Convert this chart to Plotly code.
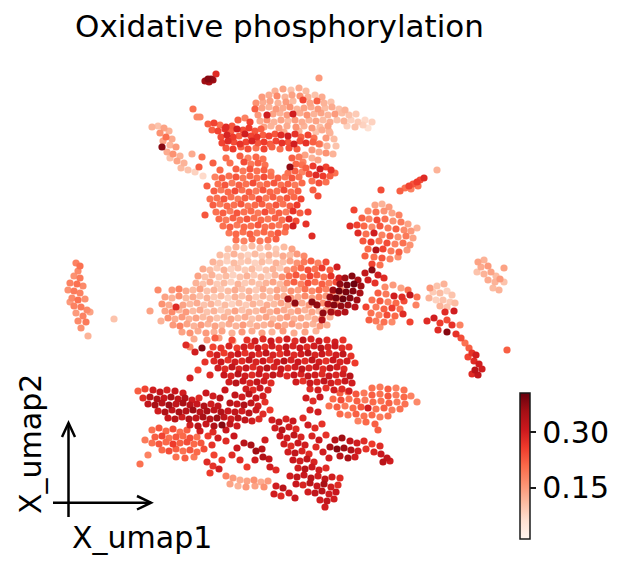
import plotly.graph_objects as go

# UMAP embedding: (X_umap1, X_umap2, oxidative phosphorylation score)
far_left = [(76,-263,.18),(80,-266,.2),(78,-271,.17),(74,-276,.16),(80,-278,.19),(70,-283,.18),(77,-284,.2),(83,-286,.17),
    (68,-290,.16),(74,-291,.19),(80,-293,.18),(72,-298,.17),(78,-300,.2),(85,-299,.16),(74,-306,.18),(81,-307,.19),(87,-310,.17),
    (76,-313,.15),(83,-316,.18),(78,-321,.17),(86,-322,.19),(81,-328,.16),(88,-336,.12),(90,-312,.14),(70,-302,.15),(114,-319,.1)]

left_strand = [(152,-127,.12),(158,-126,.1),(164,-128,.14),(169,-131,.12),(160,-133,.16),(166,-137,.2),(172,-139,.13),(163,-141,.14),
    (170,-145,.12),(162,-147,.38),(176,-147,.15),(167,-152,.13),(173,-154,.16),(180,-156,.12),(170,-158,.1),(177,-161,.14),
    (184,-163,.12),(181,-168,.11),(188,-170,.1),(195,-172,.08),(192,-154,.13),(202,-157,.2),(199,-167,.22),(203,-176,.07),
    (193,-109,.2),(197,-117,.17),(200,-117,.17)]

top_dark = [(205,-81,.36),(208,-79,.38),(211,-79,.37),(213,-80,.36),(209,-82,.35),(216,-74,.28)]

top_crown = [(275,-91,.12),(283,-89,.14),(291,-90,.1),(299,-88,.13),(306,-91,.11),(319,-78,.15),
    (262,-97,.15),(269,-95,.13),(277,-96,.17),(285,-97,.12),(292,-95,.14),(300,-96,.16),(308,-97,.12),(315,-95,.1),(322,-97,.13),
    (256,-103,.16),(263,-102,.13),(270,-101,.14),(278,-103,.12),(286,-102,.15),(293,-101,.11),(303,-100,.25),(310,-103,.14),
    (317,-101,.22),(324,-103,.12),(331,-102,.1),
    (255,-109,.22),(262,-108,.14),(269,-107,.12),(276,-109,.15),(283,-108,.13),(290,-107,.16),(297,-109,.12),(304,-108,.14),
    (311,-107,.13),(318,-109,.15),(325,-108,.11),(332,-107,.13),(339,-109,.1),(345,-110,.12),
    (258,-115,.15),(267,-115,.3),(273,-114,.14),(280,-113,.12),(287,-115,.15),(293,-114,.3),(300,-113,.13),(307,-115,.16),
    (314,-114,.12),(321,-113,.14),(328,-115,.12),(335,-114,.15),(342,-113,.11),(349,-115,.1),(356,-114,.09),
    (260,-121,.13),(267,-120,.16),(274,-122,.12),(281,-120,.14),(288,-121,.11),(295,-120,.15),(302,-122,.13),(309,-120,.12),
    (316,-121,.14),(323,-120,.11),(330,-122,.13),(337,-120,.1),(344,-121,.12),(351,-120,.08),(358,-122,.09),(365,-120,.07),
    (372,-122,.08),
    (264,-127,.14),(271,-126,.12),(279,-128,.15),(287,-126,.13),(296,-127,.16),(304,-126,.12),(312,-128,.15),(320,-127,.11),
    (328,-126,.14),(347,-126,.08),(355,-127,.1),(363,-125,.08),(368,-128,.06),
    (284,-132,.13),(299,-131,.12),(316,-132,.1),(329,-131,.12),(238,-120,.22),(245,-118,.18),(250,-122,.25)]

red_band = [(208,-124,.22),(214,-123,.25),(220,-125,.2),(226,-127,.28),(232,-126,.23),
    (212,-130,.22),(218,-131,.25),(225,-129,.27),(231,-131,.22),(237,-129,.3),(243,-130,.24),(249,-128,.26),(255,-131,.23),(261,-129,.22),
    (221,-137,.24),(227,-135,.29),(233,-137,.26),(239,-136,.22),(245,-134,.3),(251,-136,.25),(257,-137,.27),(263,-135,.22),
    (269,-136,.25),(275,-134,.23),(281,-135,.28),(288,-136,.3),(295,-134,.27),(301,-137,.22),(308,-135,.25),(314,-138,.2),
    (222,-143,.25),(228,-141,.28),(234,-142,.24),(240,-144,.27),(246,-142,.25),(252,-141,.29),(258,-143,.23),(264,-142,.26),
    (270,-144,.22),(276,-141,.25),(282,-143,.27),(288,-142,.23),(294,-144,.3),(300,-141,.24),(306,-143,.27),(313,-142,.22),(319,-144,.2),
    (226,-148,.23),(233,-149,.26),(241,-147,.22),(248,-149,.24),(256,-148,.2),(264,-149,.25),(272,-147,.22),(280,-149,.2),
    (289,-148,.24),(297,-149,.22)]

right_attached = [(322,-130,.13),(330,-133,.12),(326,-138,.15),(334,-139,.11),(320,-144,.14),(327,-146,.12),(336,-146,.1),
    (312,-150,.15),(319,-152,.13),(326,-153,.16),(333,-154,.12),(305,-155,.14),(312,-158,.12),(318,-160,.14),(306,-168,.22),
    (313,-166,.26),(320,-169,.3),(326,-167,.25),(331,-170,.27),(309,-174,.24),(316,-175,.28),(323,-176,.26),(330,-176,.22),
    (335,-173,.2),(312,-181,.2),(319,-183,.24),(326,-182,.2),(313,-190,.22),(318,-196,.24),(303,-162,.18)]

main_orange = [(226,-158,.2),(240,-156,.22),(248,-158,.18),(256,-157,.21),(263,-159,.2),(292,-158,.22),(299,-157,.19),
    (213,-163,.22),(230,-163,.2),(244,-162,.24),(251,-164,.19),(258,-163,.22),(265,-165,.2),(290,-167,.37),(296,-164,.21),(302,-165,.2),
    (220,-170,.21),(236,-169,.22),(243,-171,.19),(250,-169,.23),(257,-171,.2),(264,-170,.22),(271,-172,.19),(288,-173,.2),(295,-171,.22),(302,-172,.18),
    (215,-177,.18),(222,-178,.22),(229,-176,.2),(236,-177,.23),(243,-178,.19),(250,-176,.21),(257,-178,.2),(264,-177,.24),
    (271,-176,.2),(278,-178,.22),(285,-177,.19),(292,-178,.23),(299,-177,.2),
    (218,-184,.2),(225,-185,.23),(232,-183,.19),(239,-185,.22),(246,-184,.2),(253,-183,.24),(260,-185,.19),(267,-184,.21),
    (274,-183,.23),(281,-185,.2),(288,-184,.22),(295,-185,.19),(302,-183,.21),
    (214,-191,.22),(221,-190,.19),(228,-192,.21),(235,-191,.24),(242,-190,.2),(249,-192,.22),(256,-191,.19),(263,-190,.23),
    (270,-192,.21),(277,-191,.2),(284,-190,.24),(291,-192,.2),(298,-191,.22),
    (217,-198,.2),(224,-199,.23),(231,-197,.2),(238,-199,.19),(245,-198,.22),(252,-197,.2),(259,-199,.24),(266,-198,.19),
    (273,-197,.22),(280,-199,.2),(287,-198,.23),(294,-197,.21),(301,-199,.25),
    (213,-205,.22),(220,-204,.19),(227,-206,.21),(234,-205,.2),(241,-204,.23),(248,-206,.19),(255,-205,.21),(262,-204,.22),
    (269,-206,.2),(276,-205,.23),(283,-204,.2),(290,-206,.22),(297,-205,.26),
    (216,-212,.2),(223,-213,.22),(230,-211,.19),(237,-213,.23),(244,-212,.2),(251,-211,.21),(258,-213,.19),(265,-212,.24),
    (272,-211,.2),(279,-213,.22),(286,-212,.19),(293,-211,.27),(300,-213,.22),
    (219,-219,.21),(226,-220,.19),(233,-218,.22),(240,-220,.2),(247,-219,.23),(254,-218,.2),(261,-220,.21),(268,-219,.19),
    (275,-218,.22),(282,-220,.2),(289,-219,.28),(296,-221,.24),
    (223,-226,.2),(230,-227,.22),(237,-225,.19),(244,-227,.21),(251,-226,.2),(258,-225,.23),(265,-227,.2),(272,-226,.21),
    (279,-225,.19),(286,-227,.22),(293,-226,.3),
    (229,-233,.19),(236,-234,.21),(243,-232,.2),(250,-234,.22),(257,-233,.19),(264,-232,.21),(271,-234,.2),(278,-233,.23),(285,-232,.2),
    (236,-240,.2),(244,-241,.18),(252,-239,.21),(260,-241,.19),(268,-240,.2),(276,-239,.22),
    (207,-186,.22),(210,-199,.2),(205,-215,.23),(306,-224,.27),(312,-236,.28),(308,-212,.25)]

pale_band = [(228,-249,.1),(236,-247,.12),(244,-248,.09),(252,-246,.11),(260,-248,.1),(268,-247,.12),(276,-249,.09),(284,-247,.11),(292,-249,.14),
    (220,-255,.11),(227,-256,.09),(234,-254,.12),(241,-256,.1),(248,-255,.08),(255,-254,.11),(262,-256,.09),(269,-255,.12),
    (276,-254,.1),(283,-256,.13),(290,-255,.11),(297,-254,.15),(304,-256,.17),
    (213,-262,.12),(220,-263,.1),(227,-261,.08),(234,-263,.11),(241,-262,.09),(248,-261,.1),(255,-263,.08),(262,-262,.11),
    (269,-261,.09),(276,-263,.12),(283,-262,.1),(290,-261,.14),(297,-263,.16),(304,-262,.19),(311,-261,.22),(318,-263,.18),(326,-262,.24),
    (203,-269,.13),(210,-270,.11),(217,-268,.09),(224,-270,.12),(231,-269,.08),(238,-268,.1),(245,-270,.09),(252,-269,.11),
    (259,-268,.08),(266,-270,.1),(273,-269,.12),(280,-268,.09),(287,-270,.15),(294,-269,.18),(301,-268,.21),(308,-270,.24),
    (315,-269,.2),(322,-268,.26),(330,-270,.22),(337,-267,.3),
    (198,-276,.14),(205,-277,.1),(212,-275,.12),(219,-277,.09),(226,-276,.11),(233,-275,.08),(240,-277,.1),(247,-276,.12),
    (254,-275,.09),(261,-277,.11),(268,-276,.08),(275,-275,.12),(282,-277,.16),(289,-276,.2),(296,-275,.23),(303,-277,.19),
    (310,-276,.25),(317,-275,.22),(324,-277,.2),(331,-276,.27),(339,-278,.3),
    (196,-283,.12),(203,-284,.1),(210,-282,.13),(217,-284,.09),(224,-283,.11),(231,-282,.08),(238,-284,.12),(245,-283,.09),
    (252,-282,.11),(259,-284,.1),(266,-283,.12),(273,-282,.14),(280,-284,.11),(287,-283,.17),(294,-282,.22),(301,-284,.18),
    (308,-283,.24),(315,-282,.2),(322,-284,.22),(329,-283,.19),(336,-282,.24),
    (172,-290,.15),(179,-289,.18),(186,-291,.13),(193,-290,.11),(200,-289,.14),(207,-291,.1),(214,-290,.12),(221,-289,.09),
    (228,-291,.11),(235,-290,.13),(242,-289,.1),(249,-291,.12),(256,-290,.09),(263,-289,.13),(270,-291,.11),(277,-290,.14),
    (284,-289,.12),(291,-291,.16),(298,-290,.14),(305,-289,.2),(312,-291,.17),(319,-290,.21),(326,-289,.18),(333,-291,.2),(341,-290,.16),
    (165,-297,.14),(172,-298,.12),(179,-296,.16),(186,-298,.11),(193,-297,.13),(200,-296,.1),(207,-298,.12),(214,-297,.09),
    (221,-296,.11),(228,-298,.08),(235,-297,.12),(242,-296,.1),(249,-298,.13),(256,-297,.09),(263,-296,.12),(270,-298,.1),
    (277,-297,.14),(284,-296,.12),(291,-298,.15),(298,-297,.13),(305,-296,.17),(312,-298,.14),(319,-297,.18),(326,-296,.15),
    (333,-298,.17),(340,-297,.14),
    (162,-304,.16),(169,-305,.13),(176,-307,.28),(183,-305,.14),(190,-304,.11),(197,-303,.13),(204,-305,.1),(211,-304,.12),
    (218,-303,.09),(225,-305,.11),(232,-304,.08),(239,-303,.11),(246,-305,.09),(253,-304,.12),(260,-303,.1),(267,-305,.13),
    (274,-304,.11),(281,-303,.14),(288,-305,.12),(295,-304,.16),(302,-303,.13),(309,-305,.15),(316,-304,.12),(323,-303,.16),
    (330,-305,.14),(337,-304,.17),
    (165,-311,.14),(172,-312,.17),(179,-310,.12),(186,-312,.15),(193,-311,.11),(200,-310,.13),(207,-312,.1),(214,-311,.12),
    (221,-310,.09),(228,-312,.11),(235,-311,.14),(242,-310,.1),(249,-312,.12),(256,-311,.11),(263,-310,.14),(270,-312,.12),
    (277,-311,.15),(284,-310,.13),(291,-312,.12),(298,-311,.15),(305,-310,.12),(312,-312,.14),(319,-311,.11),(326,-310,.13),(333,-312,.16),
    (168,-318,.16),(175,-319,.13),(182,-317,.15),(189,-319,.12),(196,-318,.14),(203,-317,.11),(210,-319,.13),(217,-318,.1),
    (224,-317,.12),(231,-319,.14),(238,-318,.11),(245,-317,.13),(252,-319,.1),(259,-318,.12),(266,-317,.14),(273,-319,.11),
    (280,-318,.13),(287,-317,.15),(294,-319,.12),(301,-318,.14),(308,-317,.11),(315,-319,.13),(322,-318,.15),(330,-317,.12),
    (173,-325,.15),(180,-326,.18),(187,-324,.14),(194,-326,.12),(201,-325,.15),(208,-324,.12),(215,-326,.14),(222,-325,.11),
    (229,-324,.13),(236,-326,.12),(243,-325,.15),(250,-324,.11),(257,-326,.13),(264,-325,.12),(271,-324,.14),(278,-326,.16),
    (285,-325,.13),(292,-324,.15),(299,-326,.12),(306,-325,.14),(313,-324,.12),(320,-326,.15),(327,-325,.13),
    (182,-332,.14),(190,-333,.16),(198,-331,.13),(206,-333,.15),(214,-332,.12),(222,-331,.14),(232,-333,.12),(242,-332,.15),
    (252,-331,.13),(262,-333,.14),(272,-332,.12),(283,-331,.15),(294,-333,.13),(305,-332,.14),(316,-331,.12),
    (194,-339,.13),(207,-340,.15),(219,-338,.14),(233,-341,.12),(190,-347,.17),(161,-321,.12),(150,-311,.14),(158,-290,.17)]

dark_cluster = [(345,-278,.36),(352,-276,.38),(358,-280,.35),(340,-284,.37),(347,-285,.39),(354,-284,.4),(361,-286,.36),
    (333,-290,.36),(339,-291,.4),(346,-292,.39),(353,-291,.38),(360,-293,.35),(330,-297,.37),(336,-298,.39),(343,-299,.4),
    (350,-298,.38),(357,-300,.36),(328,-304,.35),(334,-305,.38),(341,-306,.37),(348,-305,.36),(355,-307,.33),(331,-312,.35),
    (338,-313,.33),(345,-312,.34),(323,-313,.37),(288,-299,.36),(295,-303,.37),(312,-302,.38),(317,-305,.37),(322,-320,.34),
    (365,-273,.32),(372,-270,.38),(378,-275,.3),(384,-278,.28),(368,-280,.3),(375,-283,.27)]

salmon_east = [(385,-287,.17),(393,-285,.15),(401,-288,.14),(408,-290,.2),(378,-293,.22),(386,-294,.19),(394,-296,.3),
    (402,-297,.28),(410,-295,.32),(417,-297,.2),(372,-300,.2),(380,-301,.23),(388,-302,.18),(396,-303,.21),(404,-301,.24),
    (376,-307,.19),(384,-309,.22),(392,-308,.26),(400,-309,.2),(371,-313,.2),(379,-315,.18),(387,-315,.24),(395,-316,.21),
    (403,-314,.28),(376,-321,.19),(384,-322,.2),(392,-322,.17),(380,-327,.16),(366,-307,.25),(369,-320,.22),(410,-322,.25),(416,-305,.18)]

pale_blob = [(437,-286,.1),(444,-284,.12),(433,-292,.09),(440,-293,.11),(447,-291,.08),(452,-295,.1),(429,-298,.12),
    (436,-300,.08),(443,-300,.1),(450,-302,.09),(440,-306,.12),(447,-307,.1),(455,-303,.11),(430,-288,.15)]

right_tail = [(427,-321,.28),(434,-318,.3),(440,-323,.26),(447,-320,.24),(452,-325,.27),(438,-330,.28),(447,-332,.38),
    (456,-334,.27),(461,-338,.24),(465,-343,.2),(469,-348,.22),(472,-353,.27),(468,-357,.25),(476,-355,.3),(474,-361,.28),
    (479,-364,.3),(475,-370,.33),(482,-369,.3),(478,-375,.32),(472,-374,.28),(454,-311,.3),(445,-312,.28),(507,-350,.22),(460,-325,.18)]

far_right = [(478,-262,.14),(484,-260,.12),(481,-267,.13),(488,-266,.15),(477,-272,.1),(484,-274,.12),(491,-272,.14),
    (496,-276,.11),(488,-280,.13),(495,-282,.12),(500,-279,.15),(504,-282,.1),(493,-288,.11),(504,-268,.14),(499,-290,.12)]

east_blob = [(375,-205,.14),(382,-204,.12),(389,-207,.15),(368,-211,.17),(376,-212,.2),(384,-211,.16),(392,-213,.14),(399,-215,.18),
    (362,-218,.22),(369,-219,.18),(377,-220,.24),(385,-219,.2),(393,-221,.16),(401,-222,.19),(408,-224,.14),(357,-225,.25),
    (364,-226,.21),(372,-227,.17),(380,-226,.23),(388,-228,.19),(396,-229,.22),(404,-230,.17),(411,-231,.15),(358,-233,.28),
    (366,-234,.2),(374,-233,.3),(382,-235,.18),(390,-236,.22),(398,-237,.16),(406,-236,.19),(413,-238,.14),(363,-241,.23),
    (371,-242,.26),(379,-241,.2),(387,-243,.24),(395,-244,.18),(403,-243,.2),(410,-245,.16),(368,-249,.21),(376,-250,.34),
    (383,-249,.25),(391,-251,.19),(399,-252,.22),(407,-250,.15),(374,-257,.2),(382,-258,.23),(390,-259,.18),(398,-257,.16),
    (365,-256,.22),(350,-226,.28),(354,-210,.25),(417,-228,.12),(372,-264,.25),(380,-265,.2)]

right_streak = [(400,-191,.22),(405,-188,.2),(409,-186,.25),(413,-184,.23),(417,-182,.26),(420,-180,.24),(424,-178,.28),
    (411,-189,.18),(418,-186,.2),(437,-170,.12),(381,-190,.24)]

lower_red = [(247,-340,.27),(255,-341,.3),(263,-339,.28),(271,-341,.31),(279,-340,.27),(287,-339,.3),(295,-341,.28),(303,-340,.32),
    (311,-339,.29),(319,-341,.31),(327,-340,.28),(335,-342,.3),(343,-340,.27),
    (213,-347,.25),(221,-348,.27),(229,-346,.29),(237,-348,.26),(244,-347,.3),(251,-346,.28),(258,-348,.31),(265,-347,.27),
    (272,-346,.3),(279,-348,.28),(286,-347,.32),(293,-346,.29),(300,-348,.31),(307,-347,.28),(314,-346,.3),(321,-348,.33),
    (328,-347,.29),(335,-346,.31),(342,-348,.28),(349,-347,.27),
    (210,-354,.27),(217,-355,.3),(224,-353,.26),(231,-355,.29),(238,-354,.31),(245,-353,.27),(252,-355,.3),(259,-354,.28),
    (266,-353,.32),(273,-355,.29),(280,-354,.27),(287,-353,.31),(294,-355,.28),(301,-354,.3),(308,-353,.33),(315,-355,.29),
    (322,-354,.31),(329,-353,.28),(336,-355,.3),(343,-354,.32),(351,-356,.27),
    (214,-361,.28),(221,-362,.31),(228,-360,.27),(235,-362,.3),(242,-361,.28),(249,-360,.32),(256,-362,.29),(263,-361,.31),
    (270,-360,.27),(277,-362,.3),(284,-361,.33),(291,-360,.29),(298,-362,.31),(305,-361,.28),(312,-360,.32),(319,-362,.3),
    (326,-361,.27),(333,-360,.31),(340,-362,.29),(347,-361,.3),(355,-363,.26),
    (218,-368,.3),(225,-369,.28),(232,-367,.32),(239,-369,.29),(246,-368,.31),(253,-367,.28),(260,-369,.3),(267,-368,.33),
    (274,-367,.29),(281,-369,.31),(288,-368,.28),(295,-367,.3),(302,-369,.32),(309,-368,.29),(316,-367,.31),(323,-369,.28),
    (330,-368,.32),(337,-367,.3),(344,-369,.28),
    (224,-375,.31),(231,-376,.29),(238,-374,.33),(245,-376,.3),(252,-375,.28),(259,-374,.31),(266,-376,.29),(273,-375,.32),
    (280,-374,.3),(287,-376,.28),(294,-375,.31),(301,-374,.29),(308,-376,.32),(315,-375,.3),(322,-374,.28),(329,-376,.31),
    (336,-375,.29),(343,-374,.3),(350,-376,.33),
    (229,-382,.3),(236,-383,.33),(243,-381,.31),(250,-383,.29),(257,-382,.32),(264,-381,.3),(271,-383,.28),(296,-382,.3),
    (303,-381,.27),(310,-383,.31),(317,-382,.29),(324,-381,.32),(331,-383,.3),(338,-382,.28),(345,-381,.31),(352,-383,.3),
    (246,-389,.3),(253,-390,.28),(260,-388,.31),(268,-390,.29),(310,-389,.28),(318,-390,.3),(326,-388,.27),(334,-390,.3),
    (342,-389,.28),(349,-391,.3),
    (186,-345,.28),(195,-352,.3),(202,-348,.38),(205,-362,.27),(198,-370,.25),(210,-375,.28),(190,-378,.3),(215,-338,.22),(232,-340,.25)]

left_dark = [(138,-391,.22),(145,-389,.25),(153,-390,.3),(160,-392,.32),(167,-390,.29),(175,-391,.31),(183,-393,.3),
    (143,-398,.28),(150,-397,.33),(157,-399,.34),(164,-398,.31),(171,-397,.35),(178,-399,.32),(185,-398,.34),(192,-400,.3),(199,-398,.28),
    (148,-404,.32),(155,-405,.35),(162,-403,.33),(169,-405,.36),(176,-404,.32),(183,-403,.35),(190,-405,.33),(197,-404,.31),
    (204,-406,.34),(211,-404,.3),(218,-406,.32),
    (158,-411,.3),(165,-412,.34),(172,-410,.32),(179,-412,.35),(186,-411,.33),(193,-410,.36),(200,-412,.33),(207,-411,.35),
    (214,-410,.32),(221,-412,.34),(228,-411,.31),
    (168,-418,.31),(175,-419,.33),(182,-417,.3),(189,-419,.34),(196,-418,.32),(203,-417,.35),(210,-419,.33),(217,-418,.36),
    (224,-417,.32),(231,-419,.3),(238,-418,.33),
    (190,-425,.3),(198,-426,.33),(206,-424,.31),(214,-426,.34),(222,-425,.38),(230,-424,.32),(237,-426,.3),
    (200,-431,.3),(213,-432,.28),(226,-430,.31),
    (235,-395,.32),(242,-397,.3),(249,-394,.33),(256,-398,.31),(263,-396,.3),(230,-403,.33),(237,-404,.31),(244,-405,.34),
    (251,-403,.32),(258,-406,.3),(235,-412,.32),(242,-411,.3),(249,-413,.33),(256,-410,.31),(263,-414,.28),(245,-420,.32),
    (252,-421,.3),(259,-419,.28),(225,-390,.31),(213,-396,.3),(220,-398,.33),(206,-393,.31),(265,-402,.27),(270,-410,.26)]

lower_left_salmon = [(152,-430,.2),(159,-428,.23),(166,-431,.21),(173,-429,.24),(180,-432,.2),(187,-430,.22),(155,-437,.22),
    (162,-436,.25),(169,-438,.2),(176,-437,.23),(183,-436,.21),(190,-438,.24),(197,-437,.2),(152,-443,.2),(159,-444,.23),
    (166,-442,.21),(173,-444,.26),(180,-443,.22),(187,-442,.24),(194,-444,.21),(201,-443,.23),(162,-450,.21),(169,-451,.24),
    (176,-449,.22),(183,-451,.2),(190,-450,.23),(197,-452,.21),(204,-449,.24),(176,-457,.2),(185,-458,.22),(194,-457,.19),
    (148,-455,.18),(140,-464,.2),(208,-436,.26),(145,-440,.19)]

right_salmon = [(372,-388,.2),(380,-387,.19),(388,-389,.22),(396,-388,.18),(404,-390,.2),(340,-393,.22),(348,-392,.2),
    (356,-394,.23),(364,-393,.19),(372,-395,.22),(380,-394,.2),(388,-396,.23),(396,-395,.19),(404,-397,.21),(411,-396,.18),
    (417,-402,.17),(333,-399,.21),(341,-400,.24),(349,-399,.2),(357,-401,.22),(365,-400,.19),(373,-402,.21),(381,-401,.2),
    (389,-403,.22),(397,-402,.19),(405,-404,.2),(329,-406,.2),(337,-407,.22),(345,-406,.19),(353,-408,.21),(361,-407,.23),
    (368,-408,.3),(376,-409,.2),(384,-408,.22),(392,-410,.19),(400,-409,.2),(340,-414,.21),(348,-415,.19),(356,-414,.22),
    (364,-416,.2),(372,-415,.21),(380,-417,.19),(388,-416,.2),(366,-422,.21),(375,-424,.22),(358,-421,.18)]

lower_branch = [(272,-420,.3),(279,-422,.32),(286,-419,.29),(293,-421,.31),(275,-428,.3),(282,-430,.33),(289,-427,.3),
    (296,-429,.28),(280,-436,.31),(287,-438,.3),(294,-435,.32),(301,-437,.29),(284,-444,.3),(291,-446,.28),(298,-443,.31),
    (305,-445,.3),(288,-452,.3),(295,-453,.32),(302,-451,.29),(309,-454,.28),(293,-460,.31),(300,-461,.3),(307,-459,.32),
    (314,-462,.29),(298,-468,.3),(305,-469,.33),(312,-467,.31),(319,-470,.3),(326,-468,.28),(290,-476,.3),(297,-477,.32),
    (304,-475,.31),(311,-478,.33),(318,-476,.3),(325,-479,.32),(332,-477,.3),(296,-484,.31),(303,-485,.29),(310,-483,.33),
    (317,-486,.31),(324,-484,.35),(331,-487,.3),(338,-485,.28),(308,-492,.3),(315,-493,.32),(322,-491,.33),(329,-494,.3),
    (336,-492,.31),(320,-500,.3),(327,-501,.32),(334,-499,.3),(325,-507,.3),(340,-478,.28),
    (308,-425,.3),(315,-428,.28),(322,-424,.27),(312,-436,.29),(319,-440,.31),(326,-435,.27),(316,-447,.28),(323,-452,.3),
    (306,-398,.3),(313,-401,.28),(320,-397,.31),(310,-410,.29),(318,-412,.3),(303,-418,.28)]

bottom_right_red = [(335,-440,.33),(342,-438,.36),(350,-441,.32),(357,-443,.3),(364,-441,.28),(372,-444,.26),(380,-446,.28),
    (330,-447,.35),(337,-449,.38),(344,-448,.36),(351,-450,.34),(358,-451,.3),(366,-449,.27),(374,-452,.29),(381,-454,.31),
    (387,-458,.32),(340,-456,.33),(348,-458,.35),(355,-457,.3),(383,-462,.33),(390,-461,.3),(329,-458,.3),(378,-430,.22)]

bottom_loop = [(244,-443,.33),(251,-445,.35),(256,-451,.36),(262,-449,.33),(263,-457,.34),(269,-459,.32),(255,-460,.3),
    (270,-467,.3),(276,-470,.28),(265,-440,.3),(237,-448,.31),(240,-460,.28),(247,-467,.26),(207,-462,.28),(213,-466,.27),
    (219,-469,.3),(210,-473,.26),(226,-476,.18),(233,-478,.15),(240,-480,.13),(247,-481,.14),(254,-480,.16),(261,-482,.13),
    (268,-481,.15),(230,-484,.14),(238,-486,.12),(246,-487,.15),(255,-486,.14),(264,-487,.16),(276,-486,.3),(283,-488,.33),
    (274,-494,.3),(281,-496,.28),(289,-493,.3),(295,-498,.31),(222,-460,.26),(214,-455,.25),(232,-455,.28),
    (218,-438,.3),(226,-441,.28),(234,-436,.31),(212,-445,.27)]

clusters = [far_left, left_strand, top_dark, top_crown, red_band, right_attached, main_orange, pale_band,
            dark_cluster, salmon_east, pale_blob, right_tail, far_right, east_blob, right_streak, lower_red,
            left_dark, lower_left_salmon, right_salmon, lower_branch, bottom_right_red, bottom_loop]

colorbar_ticks = [0.15, 0.30]
colorbar_ticktext = ["0.15", "0.30"]
score_min, score_max = 0.013, 0.405

cells = sorted([p for c in clusters for p in c], key=lambda p: p[2])
umap1 = [p[0] for p in cells]
umap2 = [p[1] for p in cells]
score = [p[2] for p in cells]

reds = [[0.0, "#fff5f0"], [0.125, "#fee0d2"], [0.25, "#fcbba1"], [0.375, "#fc9272"], [0.5, "#fb6a4a"],
        [0.625, "#ef3b2c"], [0.75, "#cb181d"], [0.875, "#a50f15"], [1.0, "#67000d"]]

W, H = 630, 570
FONT = "DejaVu Sans"

fig = go.Figure(go.Scatter(
    x=umap1, y=umap2, mode="markers",
    marker=dict(size=7.2, color=score, colorscale=reds, cmin=score_min, cmax=score_max,
                line=dict(width=0), opacity=1,
                colorbar=dict(thickness=10, len=146, lenmode="pixels", x=520 / W, xanchor="left",
                              y=1 - 466 / H, yanchor="middle", xpad=0, ypad=0,
                              outlinewidth=1.5, outlinecolor="#1a1a1a",
                              tickvals=colorbar_ticks, ticktext=colorbar_ticktext,
                              ticks="outside", ticklen=6, tickwidth=1.5, tickcolor="#1a1a1a",
                              tickfont=dict(family=FONT, size=30, color="black"))),
    hoverinfo="skip"))

def px(x):
    return x / W

def py(y):
    return 1 - y / H

arrow = dict(type="path", xref="paper", yref="paper", line=dict(color="black", width=2.5))
fig.add_shape(arrow, path=f"M {px(53)} {py(502.7)} L {px(151)} {py(502.7)}")
fig.add_shape(arrow, path=f"M {px(137)} {py(496)} L {px(151)} {py(502.7)} L {px(137)} {py(509.5)}")
fig.add_shape(arrow, path=f"M {px(68.5)} {py(517)} L {px(68.5)} {py(423)}")
fig.add_shape(arrow, path=f"M {px(62)} {py(437)} L {px(68.5)} {py(423)} L {px(75)} {py(437)}")

fig.add_annotation(text="X_umap1", xref="paper", yref="paper", x=px(70), y=py(537), xanchor="left", yanchor="middle",
                   showarrow=False, font=dict(family=FONT, size=30, color="black"))
fig.add_annotation(text="X_umap2", xref="paper", yref="paper", x=px(30), y=py(444), xanchor="center", yanchor="middle",
                   textangle=-90, showarrow=False, font=dict(family=FONT, size=30, color="black"))

fig.update_layout(
    width=W, height=H, margin=dict(l=0, r=0, t=0, b=0, autoexpand=False),
    paper_bgcolor="white", plot_bgcolor="white", showlegend=False,
    title=dict(text="Oxidative phosphorylation", x=279.5 / W, xanchor="center", y=1 - 26 / H, yanchor="middle",
               xref="paper", yref="paper", font=dict(family=FONT, size=31, color="black")),
    xaxis=dict(visible=False, range=[0, W], fixedrange=True),
    yaxis=dict(visible=False, range=[-H, 0], fixedrange=True),
)

fig.write_html("out.html", config={"displayModeBar": False, "staticPlot": True},
               post_script="document.body.style.margin='0';")
